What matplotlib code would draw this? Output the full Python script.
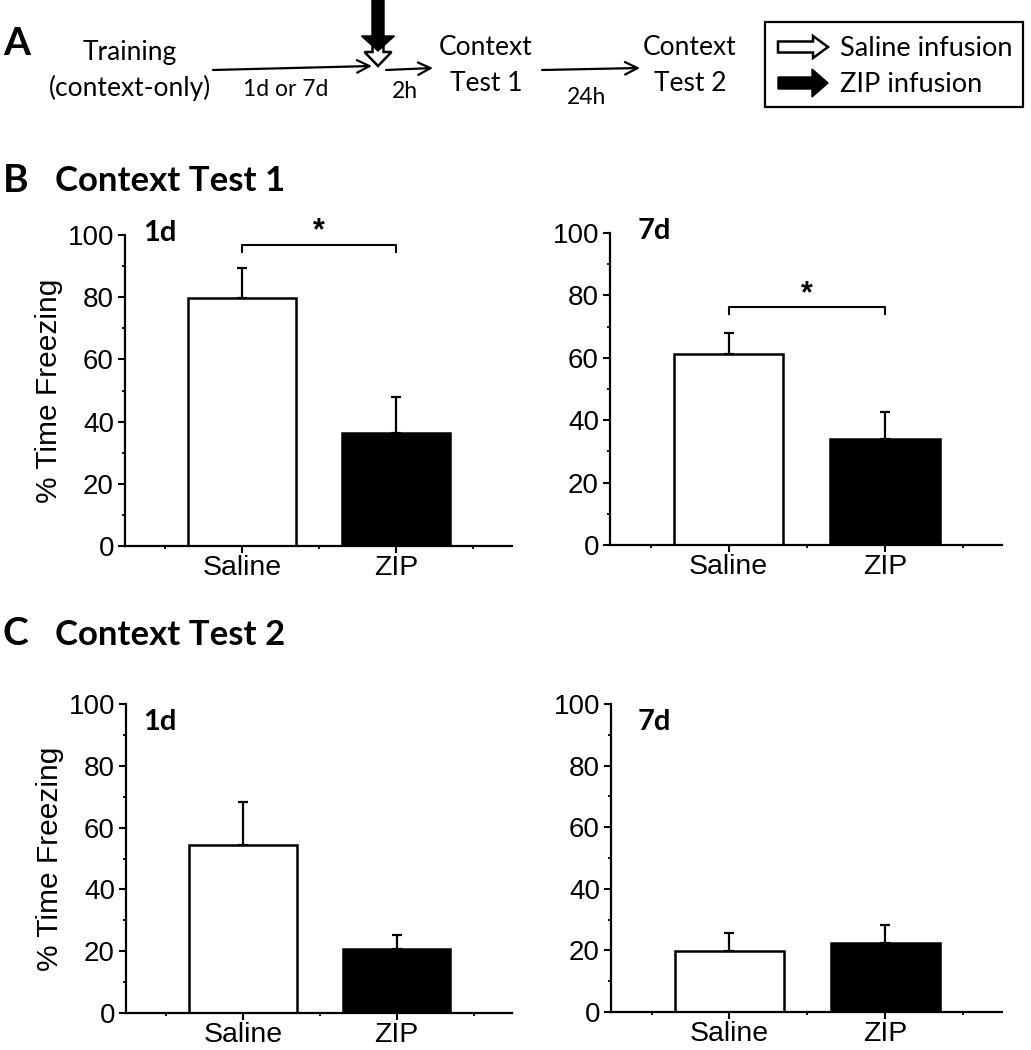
import numpy as np
import matplotlib
matplotlib.use("Agg")
import matplotlib.pyplot as plt
from matplotlib.patches import FancyArrow, Rectangle

# ---------------- data ----------------
groups = ["Saline", "ZIP"]
bar_colors = ["white", "black"]

test1_1d_mean = [79.6, 36.2]
test1_1d_sem = [9.7, 11.8]
test1_7d_mean = [61.1, 33.9]
test1_7d_sem = [6.7, 8.8]
test2_1d_mean = [54.4, 20.7]
test2_1d_sem = [13.8, 4.7]
test2_7d_mean = [19.8, 22.3]
test2_7d_sem = [6.0, 6.1]

yticks = [0, 20, 40, 60, 80, 100]
ylabel = "% Time Freezing"

plt.rcParams['font.family'] = ['Liberation Sans', 'DejaVu Sans']

W, H = 1031, 1050
fig = plt.figure(figsize=(W / 100, H / 100), dpi=100)

# overlay axes in pixel coordinates for panel A & labels
ov = fig.add_axes([0, 0, 1, 1])
ov.set_xlim(0, W)
ov.set_ylim(H, 0)
ov.axis('off')

cal = 'Lato'

def t(x, y, s, size, weight='normal', ha='center'):
    ov.text(x, y, s, fontsize=size, fontweight=weight, family=cal,
            ha=ha, va='baseline')

# panel letters and titles
t(3, 55, "A", 28, 'bold', 'left')
t(3, 192, "B", 28, 'bold', 'left')
t(55, 191, "Context Test 1", 25, 'bold', 'left')
t(3, 645, "C", 28, 'bold', 'left')
t(55, 645, "Context Test 2", 25, 'bold', 'left')

# timeline texts
t(130, 60, "Training", 19)
t(130, 96, "(context-only)", 19)
t(286, 96, "1d or 7d", 16.5)
t(405, 98, "2h", 16.5)
t(486, 55, "Context", 19)
t(486, 91, "Test 1", 19)
t(587, 104, "24h", 16.5)
t(690, 55, "Context", 19)
t(690, 91, "Test 2", 19)

def line_arrow(x0, y0, x1, y1):
    ov.annotate('', xy=(x1, y1), xytext=(x0, y0),
                arrowprops=dict(arrowstyle='->,head_length=0.9,head_width=0.45',
                                lw=1.6, color='black', shrinkA=0, shrinkB=0))

line_arrow(213, 70, 372, 66)
line_arrow(386, 70, 433, 68)
line_arrow(542, 70, 640, 68)

# vertical infusion arrows
ov.add_patch(FancyArrow(378, 46, 0, 20, width=11, head_width=27, head_length=14,
                        length_includes_head=True, fc='white', ec='black', lw=1.8))
ov.add_patch(FancyArrow(378, 0, 0, 51, width=12, head_width=33, head_length=15,
                        length_includes_head=True, fc='black', ec='black', lw=1))

# legend box
ov.add_patch(Rectangle((765, 22), 258, 85, fill=False, ec='black', lw=1.6))
ov.add_patch(FancyArrow(778, 47, 50, 0, width=11, head_width=22, head_length=15,
                        length_includes_head=True, fc='white', ec='black', lw=1.8))
ov.add_patch(FancyArrow(778, 83, 50, 0, width=12, head_width=28, head_length=16,
                        length_includes_head=True, fc='black', ec='black', lw=1))
t(840, 56, "Saline infusion", 19.5, ha='left')
t(840, 92, "ZIP infusion", 19.5, ha='left')


def panel(rect, means, sems, tag, tag_x, tag_y, ylab=True, sig=None):
    ax = fig.add_axes(rect)
    x = np.arange(1, len(groups) + 1)
    ax.bar(x, means, width=0.7, color=bar_colors, edgecolor='black',
           linewidth=1.8, zorder=2)
    ax.errorbar(x, means, yerr=[np.zeros(len(means)), sems], fmt='none',
                ecolor='black', elinewidth=1.6, capsize=3.5, capthick=1.6,
                zorder=3)
    ax.set_xlim(0.24, 2.75)
    ax.set_ylim(0, 100)
    ax.set_yticks(yticks)
    ax.set_yticks(np.arange(10, 100, 20), minor=True)
    ax.set_xticks(x)
    ax.set_xticklabels(groups, fontsize=20.5)
    ax.set_xticks([0.5, 1.5, 2.5], minor=True)
    ax.tick_params(axis='y', labelsize=20)
    ax.tick_params(which='major', direction='out', length=5, width=1.5, pad=3)
    ax.tick_params(axis='x', which='major', pad=1.5)
    ax.tick_params(which='minor', direction='out', length=2.5, width=1.3)
    for s in ['top', 'right']:
        ax.spines[s].set_visible(False)
    for s in ['left', 'bottom']:
        ax.spines[s].set_linewidth(1.6)
    ax.patch.set_alpha(0)
    if ylab:
        ax.set_ylabel(ylabel, fontsize=21.5)
        ax.yaxis.set_label_coords(-0.16, 0.5)
    ax.text(tag_x, tag_y, tag, transform=ax.transAxes, fontsize=21,
            fontweight='bold', family=cal, ha='left', va='baseline')
    if sig is not None:
        yb, yl, ys = sig
        ax.plot([1, 1, 2, 2], [yl, yb, yb, yl], color='black', lw=1.5,
                clip_on=False)
        ax.text(1.5, ys, '*', fontsize=22, fontweight='bold', ha='center',
                va='baseline', clip_on=False)
    return ax

panel([125 / W, 1 - 546 / H, 387 / W, 311 / H], test1_1d_mean, test1_1d_sem,
      "1d", 0.047, 0.98, sig=(96.8, 94.5, 98.5))
panel([610 / W, 1 - 545 / H, 392 / W, 312 / H], test1_7d_mean, test1_7d_sem,
      "7d", 0.071, 0.98, ylab=False, sig=(76.4, 74.0, 77.7))
panel([126 / W, 1 - 1013 / H, 386 / W, 309 / H], test2_1d_mean, test2_1d_sem,
      "1d", 0.044, 0.915)
panel([611 / W, 1 - 1012 / H, 391 / W, 308 / H], test2_7d_mean, test2_7d_sem,
      "7d", 0.069, 0.915, ylab=False)

fig.savefig("out.png", dpi=100)
